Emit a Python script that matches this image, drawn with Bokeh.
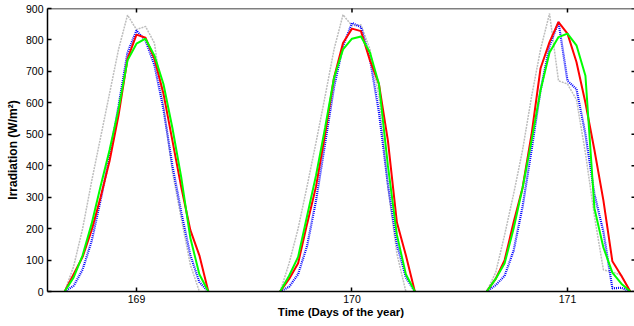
import numpy as np
from bokeh.plotting import figure
from bokeh.models import FixedTicker, Range1d, Span
from bokeh.embed import file_html
from bokeh.resources import INLINE

# --- data (hourly samples, W/m^2) ---
days = [169, 170, 171]
start_hour = [-8, -8, -9]          # first sample hour relative to each day tick
x_ticks = [169, 170, 171]
y_ticks = [0, 100, 200, 300, 400, 500, 600, 700, 800, 900]

gray_169 = [0, 80, 200, 350, 490, 630, 770, 879, 833, 843, 790, 590, 380, 230, 85, 0]
gray_170 = [0, 90, 200, 335, 475, 620, 770, 880, 845, 848, 770, 620, 330, 120, 0]
gray_171 = [0, 60, 180, 310, 450, 620, 770, 884, 670, 660, 610, 440, 240, 69, 62, 52, 0]

blue_169 = [0, 18, 70, 160, 290, 430, 590, 760, 830, 798, 720, 580, 400, 250, 115, 30, 0]
blue_170 = [0, 15, 55, 145, 290, 470, 650, 780, 854, 841, 740, 570, 340, 150, 45, 0]
blue_171 = [0, 20, 50, 130, 270, 450, 640, 780, 857, 670, 644, 500, 310, 190, 10, 12, 0]

red_169 = [0, 55, 110, 195, 300, 415, 560, 740, 817, 807, 740, 630, 480, 330, 195, 115, 0]
red_170 = [0, 40, 90, 215, 335, 500, 680, 790, 836, 828, 735, 660, 480, 220, 115, 0]
red_171 = [0, 40, 100, 220, 330, 500, 710, 793, 857, 820, 730, 600, 450, 290, 96, 50, 0]

green_169 = [0, 45, 115, 215, 335, 450, 580, 735, 788, 804, 750, 660, 520, 360, 170, 55, 0]
green_170 = [0, 50, 110, 240, 370, 520, 680, 770, 804, 811, 760, 660, 400, 180, 55, 0]
green_171 = [0, 40, 90, 200, 330, 480, 640, 760, 809, 820, 783, 686, 265, 140, 60, 25, 0]


def segments(per_day):
    xs, ys = [], []
    for d, h0, vals in zip(days, start_hour, per_day):
        t = d + (h0 + np.arange(len(vals))) / 24.0
        xs.append(list(t))
        ys.append(list(vals))
    return xs, ys


x_range = Range1d(168.587, 171.311)
y_range = Range1d(0, 900)
p = figure(width=634, height=326, output_backend="svg", toolbar_location=None,
           x_range=x_range, y_range=y_range,
           min_border_left=47, min_border_right=0, min_border_top=8,
           min_border_bottom=35)
p.background_fill_color = "white"
p.border_fill_color = "white"
p.xgrid.visible = False
p.ygrid.visible = False
p.outline_line_color = None

series = [
    ([gray_169, gray_170, gray_171], "#bdbdbd", "2 1", 1.5),
    ([blue_169, blue_170, blue_171], "#0000ff", "1 1", 2.2),
    ([red_169, red_170, red_171], "#ff0000", "solid", 2.0),
    ([green_169, green_170, green_171], "#00ff00", "solid", 2.0),
]
for data, col, dash, w in series:
    xs, ys = segments(data)
    p.multi_line(xs, ys, line_color=col, line_dash=dash, line_width=w)

# top edge of the box (right edge lies just outside the picture)
p.add_layout(Span(location=y_range.end, dimension="width", line_color="black",
                  line_width=1.5))

# inward ticks on the top and right edges of the box (MATLAB style)
p.scatter(x=[x_range.end] * len(y_ticks), y=y_ticks, marker="dash", size=6,
          line_color="black", line_width=1.5)
p.scatter(x=x_ticks, y=[y_range.end] * len(x_ticks), marker="dash", size=8,
          angle=np.pi / 2, line_color="black", line_width=1.5)

font = "Liberation Sans"
for ax in (p.xaxis[0], p.yaxis[0]):
    ax.major_tick_in = 4
    ax.major_tick_out = 0
    ax.minor_tick_in = 0
    ax.minor_tick_out = 0
    ax.axis_line_width = 1.5
    ax.major_tick_line_width = 1.5
    ax.major_label_text_font = font
    ax.major_label_text_font_size = "10.5px"
    ax.major_label_text_color = "black"
    ax.axis_label_text_font = font
    ax.axis_label_text_font_style = "bold"
    ax.axis_label_text_color = "black"

p.xaxis.ticker = FixedTicker(ticks=x_ticks)
p.yaxis.ticker = FixedTicker(ticks=y_ticks)
p.xaxis.axis_label = "Time (Days of the year)"
p.yaxis.axis_label = "Irradiation (W/m²)"
p.xaxis.axis_label_text_font_size = "11.5px"
p.yaxis.axis_label_text_font_size = "12px"
p.xaxis.major_label_standoff = 3
p.xaxis.axis_label_standoff = 0
p.yaxis.major_label_standoff = 4
p.yaxis.axis_label_standoff = 3

open("out.html", "w").write(file_html(p, INLINE))
